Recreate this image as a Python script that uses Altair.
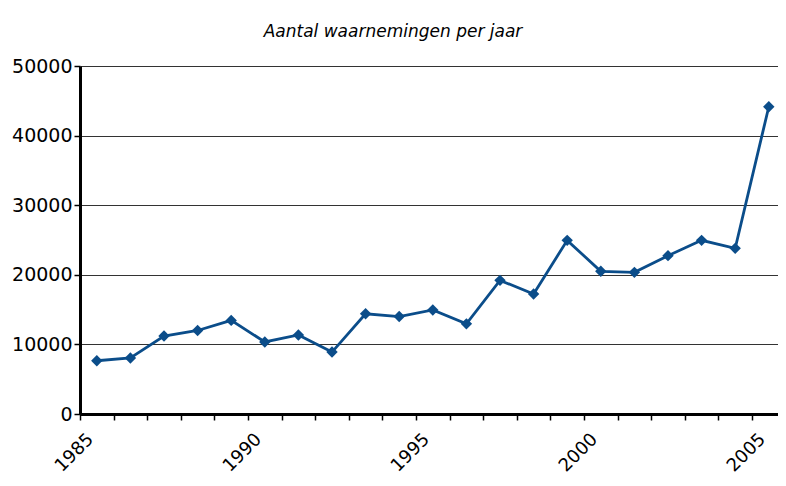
import altair as alt
import pandas as pd

years = [1985, 1986, 1987, 1988, 1989, 1990, 1991, 1992, 1993, 1994, 1995,
         1996, 1997, 1998, 1999, 2000, 2001, 2002, 2003, 2004, 2005]
counts = [7650, 8050, 11200, 12000, 13450, 10350, 11350, 8900, 14400, 14000, 14950,
          12950, 19200, 17250, 24950, 20500, 20350, 22750, 24950, 23800, 44150]
tick_years = list(range(1985, 2007))
y_ticks = [0, 10000, 20000, 30000, 40000, 50000]

df = pd.DataFrame({"jaar": years, "aantal": counts})

FONT = "DejaVu Sans"
BLUE = "#0b4d8a"

base = alt.Chart(df).transform_calculate(pos="datum.jaar + 0.5")

x = alt.X("pos:Q",
          scale=alt.Scale(domain=[1985, 2005.774], nice=False, zero=False),
          axis=alt.Axis(values=tick_years, title=None, grid=False,
                        labelExpr="datum.value % 5 == 0 ? datum.value : ''",
                        labelAngle=-45, labelAlign="right", labelBaseline="top",
                        labelFontSize=18, labelFont=FONT, labelOffset=4,
                        labelColor="black", labelPadding=10,
                        domainColor="black", domainWidth=3,
                        tickColor="black", tickWidth=1.5, tickSize=6,
                        labelOverlap=False, labelBound=False, labelFlush=False))
y = alt.Y("aantal:Q",
          scale=alt.Scale(domain=[0, 50000], nice=False),
          axis=alt.Axis(values=y_ticks, title=None, format="d",
                        labelFontSize=19, labelFont=FONT, labelColor="black",
                        labelPadding=2, domainColor="black", domainWidth=3,
                        tickColor="black", tickWidth=1.5, tickSize=6,
                        gridColor="#333333", gridWidth=1.2))

line = base.mark_line(color=BLUE, strokeWidth=2.8).encode(x=x, y=y)
pts = base.mark_point(shape="diamond", filled=True, color=BLUE, size=130,
                      opacity=1).encode(x=x, y=y)

chart = (line + pts).properties(
    width=698, height=348,
    autosize=alt.AutoSizeParams(type="none"),
    padding={"left": 72, "top": 58, "right": 0, "bottom": 64},
    title=alt.TitleParams("Aantal waarnemingen per jaar", font=FONT,
                          fontSize=17, fontStyle="italic", fontWeight="normal",
                          color="black", anchor="middle", dx=-36, offset=16),
).configure_view(stroke=None).configure(background="white")

chart.save("out.html", embed_options={"renderer": "svg", "actions": False})
